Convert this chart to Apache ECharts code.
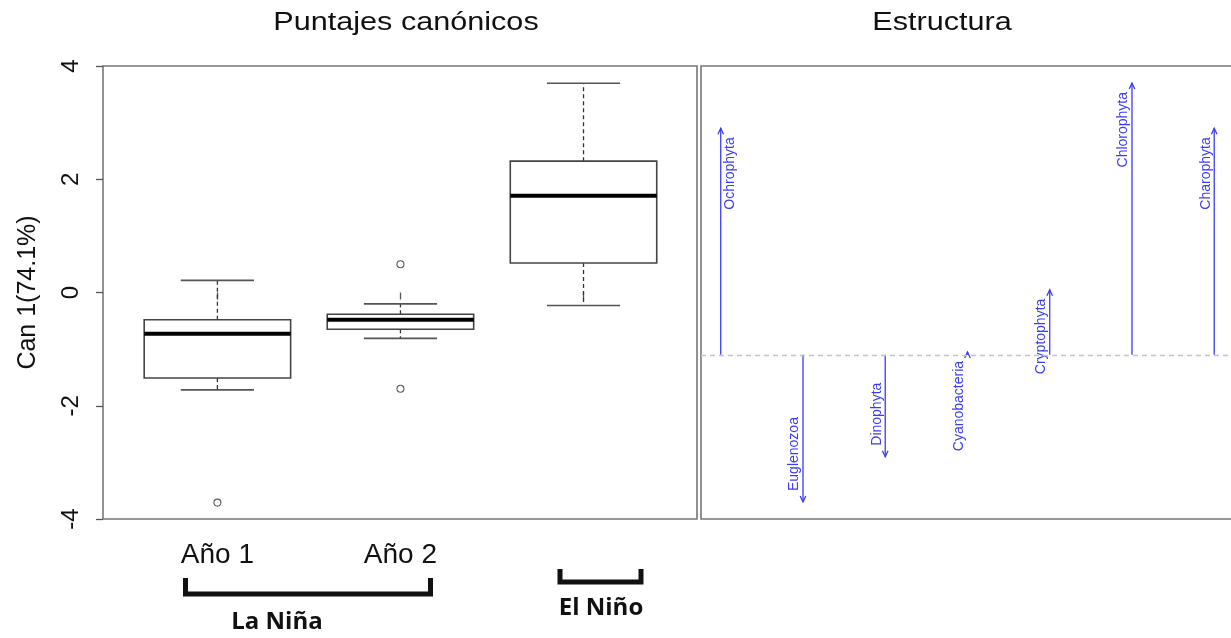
<!DOCTYPE html>
<html><head><meta charset="utf-8">
<script src="https://cdn.jsdelivr.net/npm/echarts@6/dist/echarts.min.js"></script>
<style>html,body{margin:0;padding:0;background:#fff}#c{width:1231px;height:638px}</style>
</head><body><div id="c"></div>
<script>
// ---- data ----
const groups = ['Año 1', 'Año 2', ''];
const groupPos = [1, 2, 3];
// [lower whisker, Q1, median, Q3, upper whisker]
const boxLow = [-1.72, -0.81, -0.23];
const boxQ1 = [-1.51, -0.65, 0.52];
const boxMed = [-0.73, -0.48, 1.71];
const boxQ3 = [-0.48, -0.385, 2.32];
const boxHigh = [0.215, -0.20, 3.695];
const outlierGroup = [1, 2, 2];
const outlierValue = [-3.71, 0.50, -1.70];
const yTicks = [-4, -2, 0, 2, 4];
const taxa = ['Ochrophyta', 'Euglenozoa', 'Dinophyta', 'Cyanobacteria', 'Cryptophyta', 'Chlorophyta', 'Charophyta'];
const structure = [0.80, -0.52, -0.36, 0.01, 0.23, 0.96, 0.80];
const labelRightSide = ['Ochrophyta'];

// ---- chart ----
const BLUE = '#3b3bf5';
const FONT = '"Liberation Sans", Arial, sans-serif';
const chart = echarts.init(document.getElementById('c'), null, { renderer: 'canvas' });

const boxData = groupPos.map((p, i) => [p, boxLow[i], boxQ1[i], boxMed[i], boxQ3[i], boxHigh[i]]);
const outData = outlierGroup.map((g, i) => [g, outlierValue[i]]);
const arrowData = taxa.map((t, i) => [i + 1, structure[i], t]);

function renderBox(params, api) {
  const x = api.value(0);
  const lo = api.coord([x, api.value(1)]);
  const q1 = api.coord([x, api.value(2)]);
  const md = api.coord([x, api.value(3)]);
  const q3 = api.coord([x, api.value(4)]);
  const hi = api.coord([x, api.value(5)]);
  const bw = api.size([0.8, 0])[0];
  const cw = bw / 2;
  const cx = md[0];
  const dash = { stroke: '#333', lineWidth: 1.3, lineDash: [4, 3] };
  const solid = { stroke: '#555', lineWidth: 1.6 };
  return {
    type: 'group',
    children: [
      { type: 'line', shape: { x1: cx, y1: q3[1], x2: cx, y2: hi[1] }, style: dash },
      { type: 'line', shape: { x1: cx, y1: q1[1], x2: cx, y2: lo[1] }, style: dash },
      { type: 'line', shape: { x1: cx - cw / 2, y1: hi[1], x2: cx + cw / 2, y2: hi[1] }, style: solid },
      { type: 'line', shape: { x1: cx - cw / 2, y1: lo[1], x2: cx + cw / 2, y2: lo[1] }, style: solid },
      { type: 'rect', shape: { x: cx - bw / 2, y: q3[1], width: bw, height: q1[1] - q3[1] }, style: { fill: 'none', stroke: '#444', lineWidth: 1.6 } },
      { type: 'line', shape: { x1: cx - bw / 2, y1: md[1], x2: cx + bw / 2, y2: md[1] }, style: { stroke: '#000', lineWidth: 4 } }
    ]
  };
}

function renderArrow(params, api) {
  const x = api.value(0), v = api.value(1);
  const name = taxa[params.dataIndex];
  const base = api.coord([x, 0]);
  const tip = api.coord([x, v]);
  const up = tip[1] <= base[1];
  const d = up ? 1 : -1;
  const ah = 6, aw = 2.8;
  const right = labelRightSide.indexOf(name) >= 0;
  let tx, ty, align;
  if (up) { ty = tip[1] + 9; align = 'right'; }
  else { ty = tip[1] - 11; align = 'left'; }
  tx = right ? tip[0] + 2 : tip[0] - 1.5;
  return {
    type: 'group',
    children: [
      { type: 'line', shape: { x1: base[0], y1: base[1], x2: tip[0], y2: tip[1] }, style: { stroke: BLUE, lineWidth: 1.3 } },
      { type: 'polyline', shape: { points: [[tip[0] - aw, tip[1] + d * ah], [tip[0], tip[1]], [tip[0] + aw, tip[1] + d * ah]] }, style: { stroke: BLUE, fill: null, lineWidth: 1.3 } },
      { type: 'text', x: tx, y: ty, rotation: Math.PI / 2,
        style: { text: name, fill: BLUE, font: '14px ' + FONT, align: align, verticalAlign: right ? 'top' : 'bottom' } }
    ]
  };
}

const option = {
  backgroundColor: '#fff',
  animation: false,
  grid: [
    { left: 103, top: 66, width: 594, height: 453, show: true, borderColor: '#777', borderWidth: 1.6, backgroundColor: 'transparent', outerBoundsMode: 'none', containLabel: false },
    { left: 701, top: 66, width: 600, height: 453, show: true, borderColor: '#777', borderWidth: 1.6, backgroundColor: 'transparent', outerBoundsMode: 'none', containLabel: false }
  ],
  xAxis: [
    { type: 'value', gridIndex: 0, min: 0.375, max: 3.62,
      splitLine: { show: false }, axisLine: { show: false },
      axisTick: { show: true, length: 7, lineStyle: { color: '#555', width: 1.3 }, customValues: groupPos },
      axisLabel: { customValues: groupPos, formatter: v => groups[Math.round(v) - 1], fontSize: 28, color: '#111',
        fontFamily: FONT, margin: 22 } },
    { type: 'value', gridIndex: 1, min: 0.76, max: 8.055, show: false, splitLine: { show: false } }
  ],
  yAxis: [
    { type: 'value', gridIndex: 0, min: -4, max: 4, interval: 2,
      splitLine: { show: false }, axisLine: { show: false },
      axisTick: { show: true, length: 7, lineStyle: { color: '#555', width: 1.3 } },
      axisLabel: { rotate: 90, fontSize: 24, color: '#111', margin: 20, fontFamily: FONT, customValues: yTicks },
      name: 'Can 1(74.1%)', nameLocation: 'middle', nameRotate: 90, nameGap: 62,
      nameTextStyle: { fontSize: 25, color: '#111', fontFamily: FONT } },
    { type: 'value', gridIndex: 1, min: -0.58, max: 1.02, show: false, splitLine: { show: false } }
  ],
  series: [
    { type: 'custom', xAxisIndex: 0, yAxisIndex: 0, renderItem: renderBox, data: boxData, silent: true, clip: false },
    { type: 'scatter', xAxisIndex: 0, yAxisIndex: 0, data: outData, symbol: 'circle', symbolSize: 7,
      itemStyle: { color: '#fff', borderColor: '#333', borderWidth: 1.1 }, silent: true },
    { type: 'custom', xAxisIndex: 1, yAxisIndex: 1, renderItem: renderArrow, data: arrowData, silent: true, clip: false,
      markLine: { silent: true, symbol: ['none', 'none'], label: { show: false },
        lineStyle: { color: '#c4c4c4', type: [5, 4], width: 1.3 }, data: [{ yAxis: 0 }] } }
  ],
  graphic: [
    { type: 'text', x: 406, y: 23, scaleX: 1.2, style: { text: 'Puntajes canónicos', font: '25.5px ' + FONT, fill: '#111', align: 'center', verticalAlign: 'middle' } },
    { type: 'text', x: 942, y: 23, scaleX: 1.2, style: { text: 'Estructura', font: '25.5px ' + FONT, fill: '#111', align: 'center', verticalAlign: 'middle' } },
    { type: 'polyline', shape: { points: [[185.5, 578], [185.5, 594], [430.5, 594], [430.5, 578]] }, style: { stroke: '#111', lineWidth: 5, fill: null, lineJoin: 'miter' } },
    { type: 'polyline', shape: { points: [[560, 569], [560, 582], [641, 582], [641, 569]] }, style: { stroke: '#111', lineWidth: 5, fill: null, lineJoin: 'miter' } },
    { type: 'text', x: 277, y: 622, style: { text: 'La Niña', font: 'bold 24px "Open Sans", sans-serif', fill: '#111', align: 'center', verticalAlign: 'middle' } },
    { type: 'text', x: 601, y: 608, style: { text: 'El Niño', font: 'bold 24px "Open Sans", sans-serif', fill: '#111', align: 'center', verticalAlign: 'middle' } }
  ]
};
chart.setOption(option);
</script>
</body></html>
